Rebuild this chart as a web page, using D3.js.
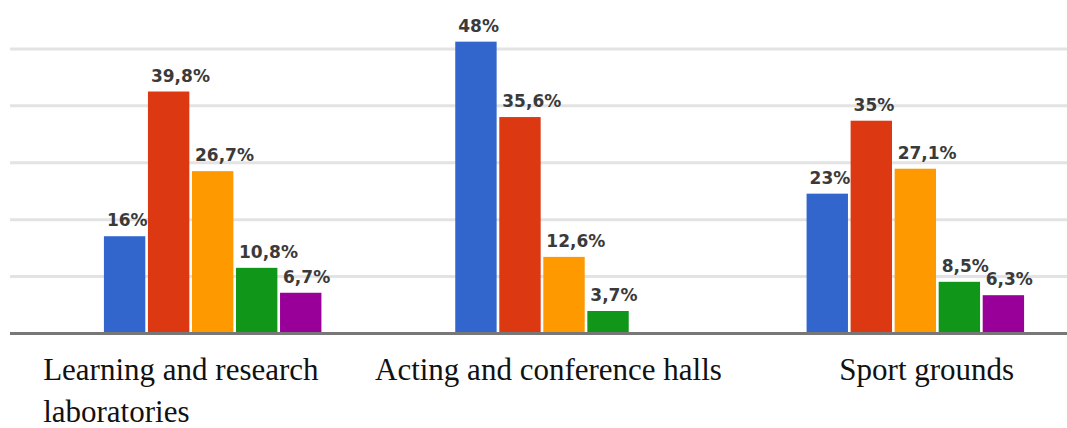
<!DOCTYPE html>
<html>
<head>
<meta charset="utf-8">
<script src="https://cdn.jsdelivr.net/npm/d3@7"></script>
<style>
  html, body { margin: 0; padding: 0; background: #fff; }
  svg { display: block; }
</style>
</head>
<body>
<svg id="chart" width="1067" height="428"></svg>
<script>
// ---- data ----
const categories = ["Learning and research laboratories", "Acting and conference halls", "Sport grounds"];
const categoryLines = [["Learning and research", "laboratories"], ["Acting and conference halls"], ["Sport grounds"]];
const seriesNames = ["s1", "s2", "s3", "s4", "s5"];
const seriesColors = ["#3366cc", "#dc3912", "#ff9900", "#109618", "#990099"];
const s1 = [16, 48, 23];
const s2 = [39.8, 35.6, 35];
const s3 = [26.7, 12.6, 27.1];
const s4 = [10.8, 3.7, 8.5];
const s5 = [6.7, 0, 6.3];
const valueLabels = [
  ["16%", "39,8%", "26,7%", "10,8%", "6,7%"],
  ["48%", "35,6%", "12,6%", "3,7%", ""],
  ["23%", "35%", "27,1%", "8,5%", "6,3%"]
];
const gridValues = [9.36, 18.72, 28.08, 37.44, 46.8];

// ---- layout ----
const svg = d3.select("#chart");
const allSeries = [s1, s2, s3, s4, s5];
const y = d3.scaleLinear().domain([0, 50]).range([333.5, 29.5]);
const x0 = d3.scaleBand().domain(categories).range([37, 1091]);
const groupW = 217.5;
const x1 = d3.scaleBand().domain(seriesNames).range([0, groupW]).paddingInner(0.06);
const groupStart = c => x0(c) + (x0.bandwidth() - groupW) / 2;

// gridlines
svg.append("g").selectAll("line").data(gridValues).join("line")
  .attr("x1", 10).attr("x2", 1067)
  .attr("y1", d => y(d)).attr("y2", d => y(d))
  .attr("stroke", "#e3e3e3").attr("stroke-width", 3);

// bars
const rows = [];
categories.forEach((c, ci) => {
  seriesNames.forEach((s, si) => {
    rows.push({ c, ci, s, si, v: allSeries[si][ci], label: valueLabels[ci][si] });
  });
});
const barRows = rows.filter(d => d.v > 0);

svg.append("g").selectAll("rect").data(barRows).join("rect")
  .attr("x", d => groupStart(d.c) + x1(d.s))
  .attr("y", d => y(d.v))
  .attr("width", x1.bandwidth())
  .attr("height", d => y(0) - y(d.v))
  .attr("fill", d => seriesColors[d.si]);

// value labels
svg.append("g").selectAll("text").data(barRows).join("text")
  .attr("x", d => groupStart(d.c) + x1(d.s) + 3)
  .attr("y", d => y(d.v) - 10)
  .attr("font-family", "DejaVu Sans, Verdana, sans-serif")
  .attr("font-size", 17)
  .attr("font-weight", "bold")
  .attr("fill", "#3a3a3a")
  .text(d => d.label);

// baseline
svg.append("line")
  .attr("x1", 10).attr("x2", 1067)
  .attr("y1", y(0)).attr("y2", y(0))
  .attr("stroke", "#777").attr("stroke-width", 3);

// category labels
const labelShift = [-169.5, -189, -76];
const catText = svg.append("g").selectAll("text").data(categories).join("text")
  .attr("font-family", "Liberation Serif, Times New Roman, serif")
  .attr("font-size", 31)
  .attr("fill", "#111")
  .attr("text-anchor", "start");
catText.each(function(c, i) {
  const sx = x0(c) + x0.bandwidth() / 2 + labelShift[i];
  d3.select(this).selectAll("tspan").data(categoryLines[i]).join("tspan")
    .attr("x", sx)
    .attr("y", (d, j) => 380 + j * 42)
    .text(d => d);
});
</script>
</body>
</html>
